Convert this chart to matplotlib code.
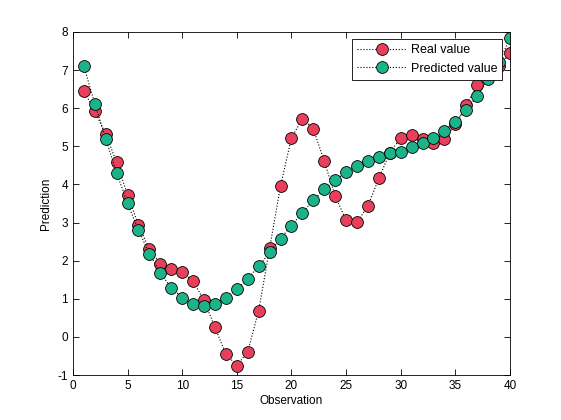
import numpy as np
import matplotlib
matplotlib.use('Agg')
import matplotlib.pyplot as plt

obs = np.arange(1, 41)
real = [6.45, 5.92, 5.32, 4.58, 3.73, 2.93, 2.30, 1.92, 1.79, 1.69,
        1.46, 0.96, 0.25, -0.45, -0.75, -0.39, 0.69, 2.32, 3.96, 5.22,
        5.72, 5.46, 4.61, 3.70, 3.06, 3.01, 3.43, 4.16, 4.83, 5.22,
        5.30, 5.18, 5.08, 5.19, 5.58, 6.09, 6.60, 6.85, 7.10, 7.45]
predicted = [7.10, 6.12, 5.20, 4.30, 3.50, 2.80, 2.18, 1.68, 1.29, 1.03,
             0.87, 0.82, 0.87, 1.03, 1.25, 1.53, 1.85, 2.22, 2.58, 2.92,
             3.26, 3.59, 3.87, 4.11, 4.32, 4.49, 4.62, 4.73, 4.82, 4.86,
             4.99, 5.08, 5.21, 5.41, 5.65, 5.94, 6.31, 6.77, 7.20, 7.84]

plt.rcParams['font.family'] = ['Liberation Sans', 'DejaVu Sans']
plt.rcParams['font.size'] = 8.5
plt.rcParams['axes.unicode_minus'] = False

fig = plt.figure(figsize=(5.61, 4.20), dpi=100)
ax = fig.add_axes([0.13, 0.107, 0.779, 0.817])

ax.plot(obs, real, ':', color='black', lw=0.8, marker='o', ms=8.5,
        mfc='#E8405A', mec='black', mew=0.6, label='Real value')
ax.plot(obs, predicted, ':', color='black', lw=0.8, marker='o', ms=8.5,
        mfc='#1DB38A', mec='black', mew=0.6, label='Predicted value')

ax.set_xlim(0, 40)
ax.set_ylim(-1, 8)
ax.set_xticks(range(0, 41, 5))
ax.set_yticks(range(-1, 9))
ax.tick_params(direction='in', length=4, width=0.6, top=True, right=True)
for s in ax.spines.values():
    s.set_linewidth(0.6)
ax.set_xlabel('Observation', labelpad=2)
ax.set_ylabel('Prediction', labelpad=4)

leg = ax.legend(loc='upper right', fancybox=False, framealpha=1,
                edgecolor='black', borderaxespad=0.6, handlelength=4.0,
                handletextpad=0.3, fontsize=9, borderpad=0.4,
                labelspacing=0.5)
leg.get_frame().set_linewidth(0.6)

fig.savefig('out.png', dpi=100)
